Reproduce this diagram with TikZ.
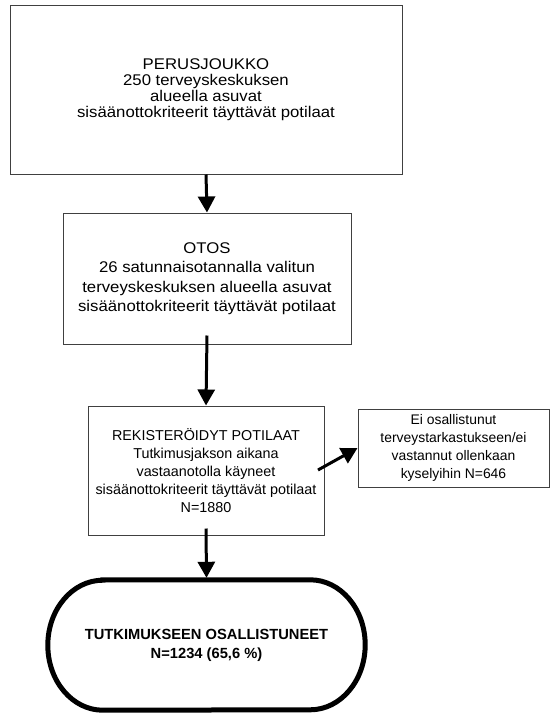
\documentclass[tikz,border=0pt]{standalone}
\usepackage{fontspec}
\setmainfont{Liberation Sans}
\newfontfamily\widefont[FakeStretch=1.08]{Liberation Sans}
\usetikzlibrary{arrows.meta}
\tikzset{
  boxnode/.style={draw=black!75, line width=1pt, align=center, inner sep=0pt, fill=white},
  arr/.style={line width=3pt, -{Triangle[width=17pt,length=16pt]}},
}
\begin{document}
\begin{tikzpicture}[x=1pt,y=-1pt]
\useasboundingbox[fill=white] (0,0) rectangle (554,713);
\node[boxnode, minimum width=392pt, minimum height=169pt, font=\widefont\fontsize{15.5}{15.8}\selectfont] (b1) at (206,89.5)
  {PERUSJOUKKO\\250 terveyskeskuksen\\alueella asuvat\\sisäänottokriteerit täyttävät potilaat};
\node[boxnode, minimum width=288pt, minimum height=131pt, font=\widefont\fontsize{15.5}{19.4}\selectfont] (b2) at (207,278.5)
  {OTOS\\26 satunnaisotannalla valitun\\terveyskeskuksen alueella asuvat\\sisäänottokriteerit täyttävät potilaat};
\node[boxnode, minimum width=236pt, minimum height=129pt, font=\fontsize{14.35}{18}\selectfont] (b3) at (206,470.5)
  {REKISTERÖIDYT POTILAAT\\Tutkimusjakson aikana\\vastaanotolla käyneet\\sisäänottokriteerit täyttävät potilaat\\N=1880};
\node[boxnode, minimum width=191pt, minimum height=78pt, font=\fontsize{13.9}{17.8}\selectfont] (b4) at (453.5,448)
  {Ei osallistunut\\terveystarkastukseen/ei\\vastannut ollenkaan\\kyselyihin N=646};
\node[align=center, inner sep=0pt, minimum width=317pt, minimum height=130pt, font=\fontsize{14.7}{19}\selectfont\bfseries] (ov) at (206.5,645)
  {TUTKIMUKSEEN OSALLISTUNEET\\N=1234 (65,6 \%)};
\draw[line width=5pt] ([xshift=55pt]ov.north west) -- ([xshift=-55pt]ov.north east)
  arc[start angle=90, end angle=-90, x radius=55pt, y radius=65pt]
  -- ([xshift=55pt]ov.south west)
  arc[start angle=270, end angle=90, x radius=55pt, y radius=65pt] -- cycle;
\draw[arr] (b1.south) -- (b2.north);
\draw[arr] ([yshift=9pt]b2.south) -- (b3.north);
\draw[arr] ([yshift=7pt]b3.south) -- ([yshift=2pt]ov.north);
\coordinate (d0) at (318,470);
\draw[arr] (d0) -- (b4.west);
\end{tikzpicture}
\end{document}
